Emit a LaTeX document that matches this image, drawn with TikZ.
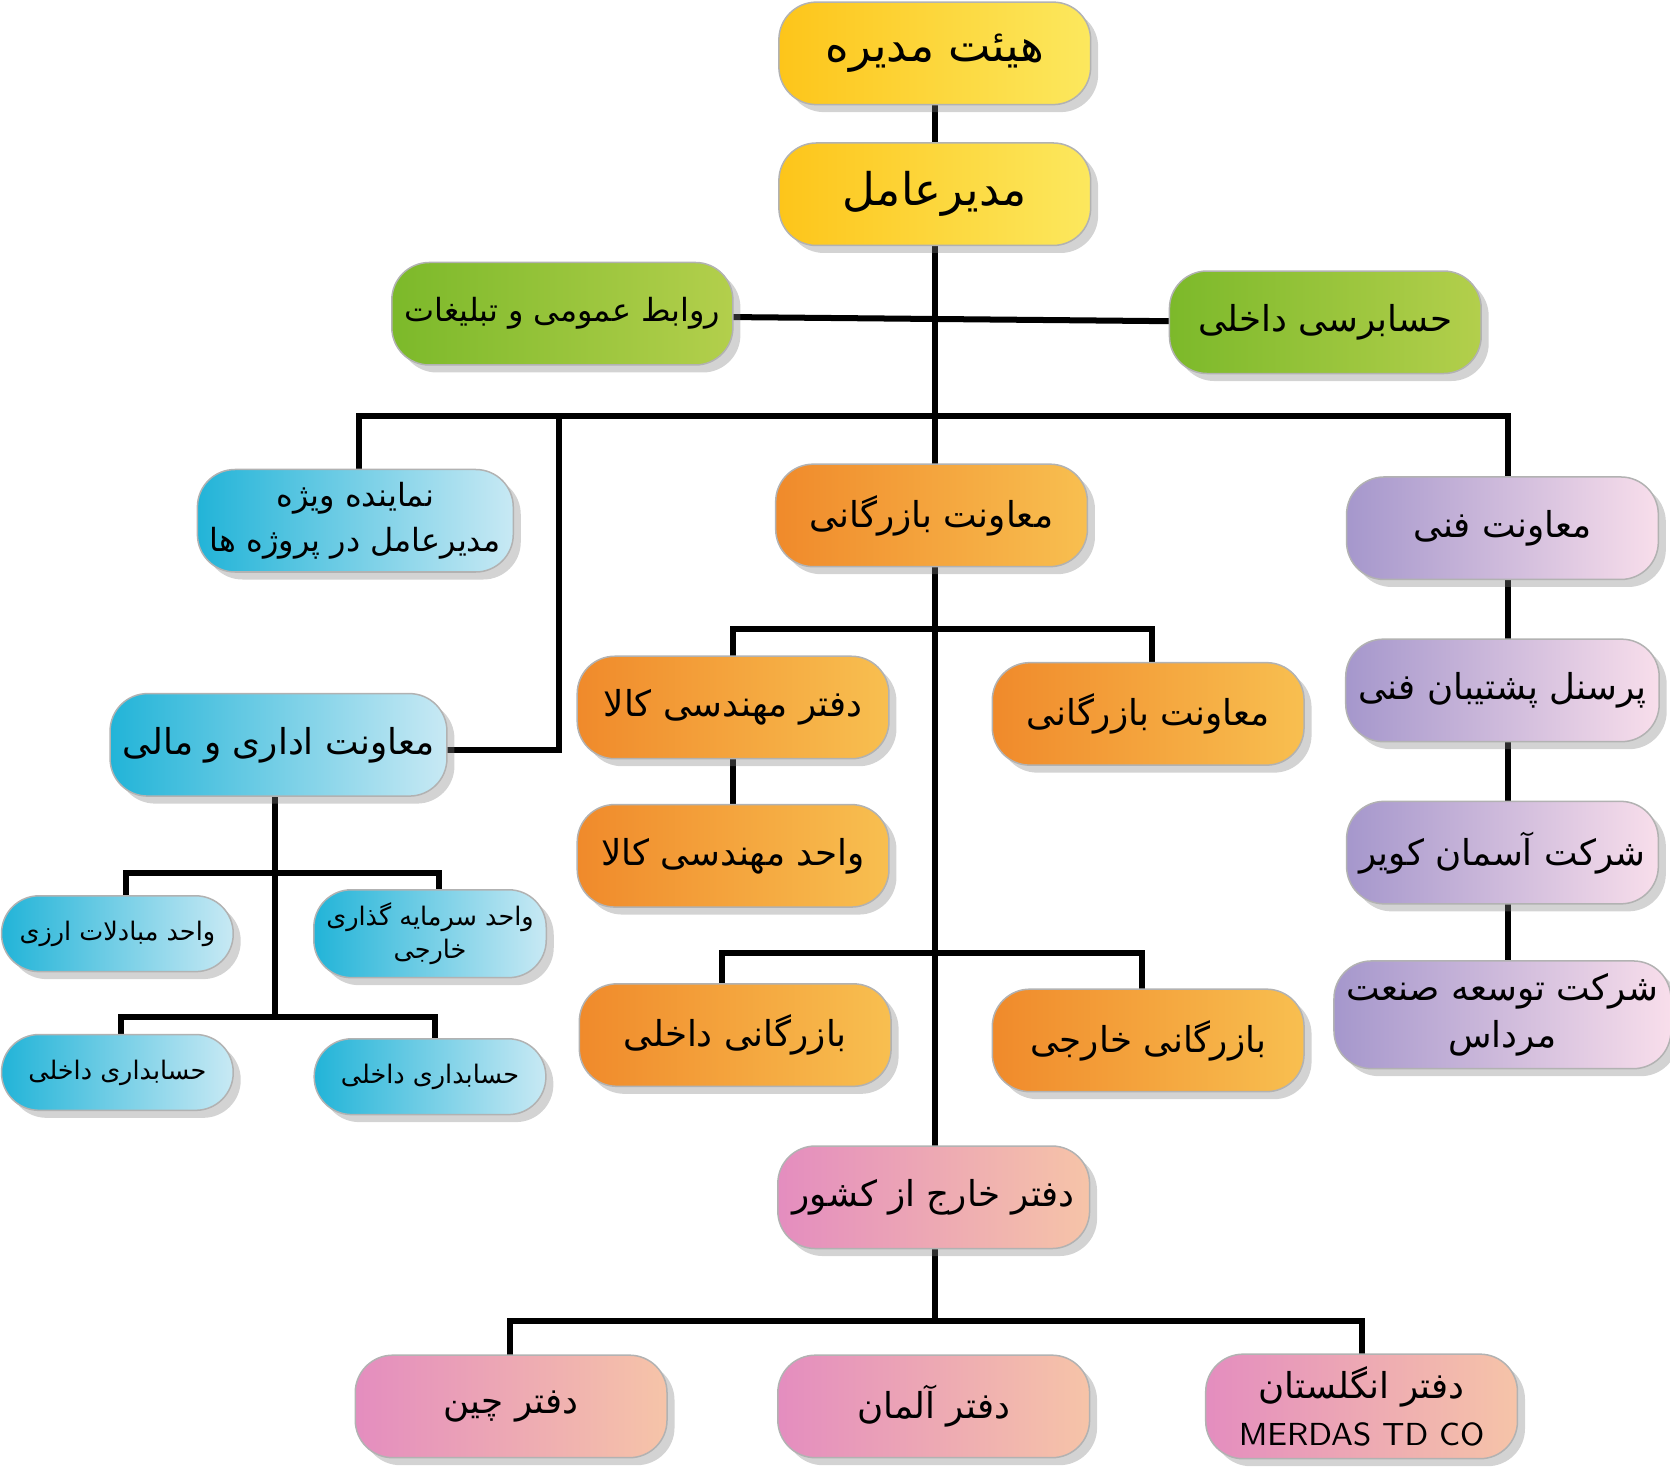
\documentclass[tikz,border=0pt]{standalone}
\usepackage{fontspec}
\newfontfamily\arabicfont[Script=Arabic]{DejaVu Sans}
\TeXXeTstate=1
\usetikzlibrary{shadows}
\newcommand{\fa}[1]{{\arabicfont\beginR #1\endR}}

\definecolor{yelA}{HTML}{FDC51A}\definecolor{yelB}{HTML}{FCE85E}
\definecolor{grnA}{HTML}{7CB92A}\definecolor{grnB}{HTML}{B3CF4C}
\definecolor{cyaA}{HTML}{22B4D8}\definecolor{cyaB}{HTML}{C8E9F4}
\definecolor{orgA}{HTML}{F08A2B}\definecolor{orgB}{HTML}{F8BF50}
\definecolor{purA}{HTML}{A597CC}\definecolor{purB}{HTML}{F8DEEB}
\definecolor{pnkA}{HTML}{E48DBF}\definecolor{pnkB}{HTML}{F6C4A8}

\tikzset{
  box/.style={draw=black!30, rounded corners=10pt, minimum width=2.92cm,
    minimum height=0.96cm, align=center, font=\fontsize{9.5}{12.5}\selectfont,
    drop shadow={shadow xshift=2pt, shadow yshift=-2pt, opacity=0.35}},
  tight/.style={font=\fontsize{8.5}{12}\selectfont},
  big/.style={font=\fontsize{12}{14}\selectfont},
  small/.style={box, minimum width=2.17cm, minimum height=0.71cm,
    font=\fontsize{6.8}{9}\selectfont},
  yel/.style={left color=yelA, right color=yelB},
  grn/.style={left color=grnA, right color=grnB},
  cya/.style={left color=cyaA, right color=cyaB},
  org/.style={left color=orgA, right color=orgB},
  pur/.style={left color=purA, right color=purB},
  pnk/.style={left color=pnkA, right color=pnkB},
  wire/.style={line width=1.6pt}
}

\begin{document}
\begin{tikzpicture}[x=0.01cm, y=-0.01cm]
  \useasboundingbox (0,0) rectangle (1565,1378);

  % connectors first
  \coordinate (j1) at (876,390);
  \coordinate (j2) at (876,589);
  \coordinate (j3) at (876,893);
  \coordinate (j4) at (876,1238);
  \draw[wire] (876,98) -- (876,1075);
  \draw[wire] (876,1170) -- (j4);
  \draw[wire] (673,297) -- (1097,301);
  \draw[wire] (336,440) -- (336,390) -- (1413,390) -- (1413,447);
  \draw[wire] (524,390) -- (524,703) -- (407,703);
  \draw[wire] (687,615) -- (687,589) -- (1080,589) -- (1080,621);
  \draw[wire] (687,711) -- (687,754);
  \draw[wire] (677,922) -- (677,893) -- (1070,893) -- (1070,927);
  \draw[wire] (258,746) -- (258,953);
  \draw[wire] (118,839) -- (118,818) -- (411,818) -- (411,839);
  \draw[wire] (113,969) -- (113,953) -- (408,953) -- (408,973);
  \draw[wire] (1413,543) -- (1413,903);
  \draw[wire] (478,1271) -- (478,1238) -- (1276,1238) -- (1276,1271);

  % boxes
  \node[box, yel, big] (board) at (876,50) {\fa{هیئت مدیره}};
  \node[box, yel, big] (ceo) at (876,182) {\fa{مدیرعامل}};
  \node[box, grn, tight] (pr) at (527,294) {\fa{روابط عمومی و تبلیغات}};
  \node[box, grn] (audit) at (1242,302) {\fa{حسابرسی داخلی}};
  \node[box, cya, tight] (rep) at (333,488) {\fa{نماینده ویژه}\\\fa{مدیرعامل در پروژه ها}};
  \node[box, org] (comm) at (873,483) {\fa{معاونت بازرگانی}};
  \node[box, pur] (tech) at (1408,495) {\fa{معاونت فنی}};
  \node[box, org] (goodsoffice) at (687,663) {\fa{دفتر مهندسی کالا}};
  \node[box, org] (comm2) at (1076,669) {\fa{معاونت بازرگانی}};
  \node[box, cya] (admin) at (261,698) {\fa{معاونت اداری و مالی}};
  \node[box, pur] (techstaff) at (1408,647) {\fa{پرسنل پشتیبان فنی}};
  \node[box, pur] (asman) at (1408,799) {\fa{شرکت آسمان کویر}};
  \node[box, pur] (mardas) at (1408,951) {\fa{شرکت توسعه صنعت}\\\fa{مرداس}};
  \node[box, org] (goodsunit) at (687,802) {\fa{واحد مهندسی کالا}};
  \node[small, cya] (fx) at (110,875) {\fa{واحد مبادلات ارزی}};
  \node[small, cya] (invest) at (403,875) {\fa{واحد سرمایه گذاری}\\\fa{خارجی}};
  \node[small, cya] (acc1) at (110,1005) {\fa{حسابداری داخلی}};
  \node[small, cya] (acc2) at (403,1009) {\fa{حسابداری داخلی}};
  \node[box, org] (domestic) at (689,970) {\fa{بازرگانی داخلی}};
  \node[box, org] (foreign) at (1076,975) {\fa{بازرگانی خارجی}};
  \node[box, pnk] (abroad) at (875,1122) {\fa{دفتر خارج از کشور}};
  \node[box, pnk] (china) at (479,1318) {\fa{دفتر چین}};
  \node[box, pnk] (germany) at (875,1318) {\fa{دفتر آلمان}};
  \node[box, pnk] (england) at (1276,1318) {\fa{دفتر انگلستان}\\{\fontsize{8.5}{10}\selectfont\sffamily MERDAS TD CO}};
\end{tikzpicture}
\end{document}
